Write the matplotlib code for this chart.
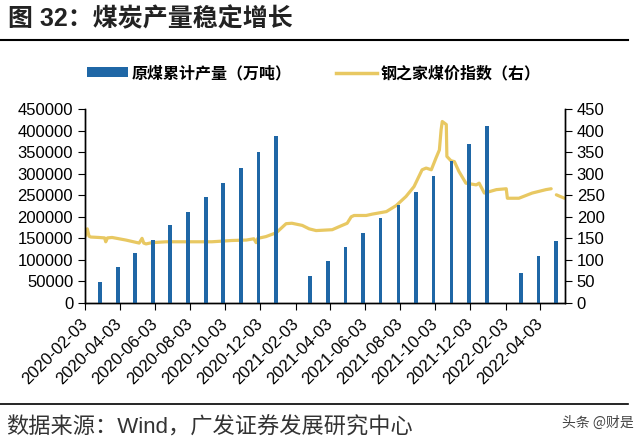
import matplotlib
matplotlib.use('Agg')
import matplotlib.pyplot as plt
from matplotlib.lines import Line2D
from matplotlib.patches import Patch
import numpy as np
import pandas as pd

plt.rcParams['font.family'] = ['Liberation Sans', 'Noto Sans CJK SC', 'DejaVu Sans']

# 原煤累计产量（万吨），月末
bar_dates = ['2020-02-29', '2020-03-31', '2020-04-30', '2020-05-31', '2020-06-30',
             '2020-07-31', '2020-08-31', '2020-09-30', '2020-10-31', '2020-11-30',
             '2020-12-31',
             '2021-02-28', '2021-03-31', '2021-04-30', '2021-05-31', '2021-06-30',
             '2021-07-31', '2021-08-31', '2021-09-30', '2021-10-31', '2021-11-30',
             '2021-12-31',
             '2022-02-28', '2022-03-31', '2022-04-30']
bar_vals = [48800, 82900, 115400, 146400, 181200, 212100, 245500, 279500, 312000,
            349200, 386300,
            61800, 97600, 130800, 163300, 196800, 227700, 258600, 295000, 329900,
            368600, 409600,
            70400, 109200, 144700]

# 钢之家煤价指数（右）
line_dates = ['2020-02-03', '2020-02-07', '2020-02-10', '2020-02-13', '2020-02-27',
              '2020-03-08', '2020-03-10', '2020-03-13', '2020-03-21', '2020-04-14',
              '2020-05-07', '2020-05-12', '2020-05-15', '2020-05-19', '2020-05-29',
              '2020-06-23', '2020-07-27', '2020-09-10', '2020-10-15', '2020-11-09',
              '2020-11-22', '2020-11-26', '2020-11-29', '2020-12-13', '2020-12-31',
              '2021-01-17', '2021-01-27', '2021-02-14', '2021-02-26', '2021-03-10',
              '2021-04-07', '2021-04-19', '2021-05-03', '2021-05-10', '2021-05-15',
              '2021-06-05', '2021-06-15', '2021-07-10', '2021-07-27', '2021-08-13',
              '2021-08-27', '2021-09-10', '2021-09-17', '2021-09-26', '2021-10-04',
              '2021-10-10', '2021-10-13', '2021-10-15', '2021-10-22', '2021-10-23',
              '2021-10-30', '2021-11-05', '2021-11-13', '2021-11-25', '2021-12-13',
              '2021-12-18', '2021-12-27', '2022-01-17', '2022-02-03', '2022-02-05',
              '2022-02-25', '2022-03-20', '2022-04-13', '2022-04-22', '2022-04-26',
              '2022-05-01', '2022-05-15']
line_vals = [154, 172, 155, 153, 152,
             151, 142, 151, 152, 146,
             139, 150, 139, 137, 140,
             142, 142, 142, 145, 146,
             149, 140, 150, 154, 163,
             184, 185, 180, 172, 168,
             170, 177, 185, 200, 203,
             203, 206, 212, 226, 247,
             270, 309, 313, 309, 336,
             355, 402, 421, 414, 340,
             330, 328, 305, 278, 274,
             278, 255, 263, 265, 243,
             243, 255, 263, 265, np.nan,
             251, 243]

tick_labels = ['2020-02-03', '2020-04-03', '2020-06-03', '2020-08-03', '2020-10-03',
               '2020-12-03', '2021-02-03', '2021-04-03', '2021-06-03', '2021-08-03',
               '2021-10-03', '2021-12-03', '2022-02-03', '2022-04-03']

bar_color = '#1f67a6'
line_color = '#e8c862'
cjk = ['Noto Sans CJK SC', 'DejaVu Sans']

fig = plt.figure(figsize=(6.4, 4.45), dpi=100)
ax = fig.add_axes([85/640, 1-303/445, 480/640, 194/445])
ax2 = ax.twinx()

bx = pd.to_datetime(bar_dates)
lx = pd.to_datetime(line_dates)

ax2.plot(lx, line_vals, color=line_color, lw=2.3, solid_capstyle='round')
ax.bar(bx, bar_vals, width=6.5, color=bar_color)

# bars drawn above the line
ax.set_zorder(ax2.get_zorder() + 1)
ax.patch.set_visible(False)

ax.set_xlim(pd.Timestamp('2020-02-03'), pd.Timestamp('2022-05-16'))
ax.set_ylim(0, 450000)
ax2.set_ylim(0, 450)
ax.set_yticks(np.arange(0, 450001, 50000))
ax2.set_yticks(np.arange(0, 451, 50))

ax.set_xticks(pd.to_datetime(tick_labels))
ax.set_xticklabels(tick_labels, rotation=45, ha='right', va='center',
                   rotation_mode='anchor')
ax.tick_params(axis='x', length=5, pad=8, labelsize=12)
ax.tick_params(axis='y', length=5, labelsize=12)
ax2.tick_params(axis='y', length=5, labelsize=12)

for a in (ax, ax2):
    a.spines['top'].set_visible(False)
    for s in ('left', 'right', 'bottom'):
        a.spines[s].set_linewidth(1.0)

# legend
handles = [Patch(facecolor=bar_color, edgecolor='none'),
           Line2D([0], [0], color=line_color, lw=2.5)]
fig.legend(handles, ['原煤累计产量（万吨）', '钢之家煤价指数（右）'],
           loc='center', bbox_to_anchor=(0.49, 1-73/445), ncol=2, frameon=False,
           prop={'family': cjk, 'size': 11.5, 'weight': 'bold'},
           handlelength=2.6, handleheight=0.6, columnspacing=2.8, handletextpad=0.2)

# title and frame lines
fig.text(8/640, 1-19/445, '图 32：煤炭产量稳定增长', fontsize=18, fontweight='bold',
         va='center', ha='left', color='#222222')
fig.add_artist(Line2D([0, 628/640], [1-40/445, 1-40/445], color='black', lw=1.5))
fig.add_artist(Line2D([0, 628/640], [1-404/445, 1-404/445], color='black', lw=1.2))
fig.text(6/640, 1-428/445, '数据来源：Wind，广发证券发展研究中心', fontsize=16,
         va='center', ha='left', color='#333333')
fig.text(634/640, 1-423/445, '头条 @财是', fontsize=10, va='center', ha='right',
         color='#444444', family=cjk)

fig.savefig('out.png', dpi=100)
